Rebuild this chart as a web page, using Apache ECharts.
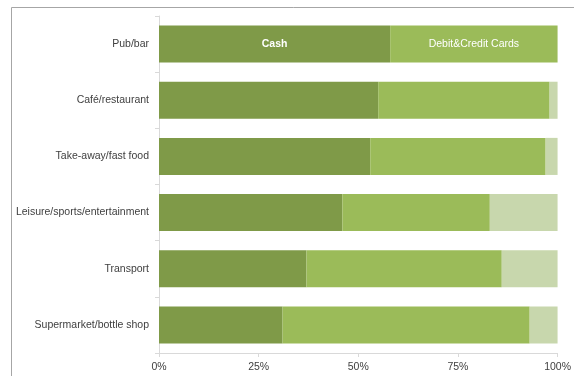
<!DOCTYPE html>
<html>
<head>
<meta charset="utf-8">
<script src="https://cdn.jsdelivr.net/npm/echarts@6/dist/echarts.min.js"></script>
<style>
html, body {margin: 0; padding: 0; background: #fff;}
#chart {width: 574px; height: 376px;}
</style>
</head>
<body>
<div id="chart"></div>
<script>
// payment method share by venue type (percent)
var categories = ['Pub/bar', 'Café/restaurant', 'Take-away/fast food', 'Leisure/sports/entertainment', 'Transport', 'Supermarket/bottle shop'];
var cash = [58, 55, 53, 46, 37, 31];
var cards = [42, 43, 44, 37, 49, 62];
var other = [0, 2, 3, 17, 14, 7];
var xTicks = [0, 25, 50, 75, 100];

function createPaymentChart() {
    var myChart = echarts.init(document.getElementById('chart'));
    var font = "'Liberation Sans', sans-serif";

    // only the first bar carries the inside labels
    function firstLabel(text, bold) {
        return {show: true, position: 'inside', color: '#fff', fontSize: 10.5, fontFamily: font, fontWeight: bold ? 'bold' : 'normal',
            formatter: function (p) { return p.dataIndex === 0 ? text : ''; }};
    }

    var option = {
        animation: false,
        graphic: [{type: 'rect', shape: {x: 11.5, y: 7.5, width: 700, height: 500}, style: {fill: 'none', stroke: '#A6A6A6', lineWidth: 1}}],
        grid: {left: 159, right: 16, top: 16, bottom: 23},
        xAxis: {type: 'value', min: 0, max: 100, interval: 25,
            axisLine: {show: true, lineStyle: {color: '#D9D9D9'}}, axisTick: {show: true, length: 4, lineStyle: {color: '#D9D9D9'}},
            splitLine: {show: false},
            axisLabel: {color: '#404040', fontSize: 10.5, fontFamily: font, margin: 9,
                formatter: function (v) { return xTicks.indexOf(v) >= 0 ? v + '%' : ''; }}},
        yAxis: {type: 'category', inverse: true, data: categories,
            axisLine: {show: true, lineStyle: {color: '#D9D9D9'}}, axisTick: {show: true, length: 4, lineStyle: {color: '#D9D9D9'}},
            axisLabel: {color: '#404040', fontSize: 10.5, fontFamily: font, margin: 10}},
        series: [
            {name: 'Cash', type: 'bar', stack: 'all', data: cash, barWidth: '66%', itemStyle: {color: '#7F9A48'}, label: firstLabel('Cash', true)},
            {name: 'Debit&Credit Cards', type: 'bar', stack: 'all', data: cards, itemStyle: {color: '#9BBB59'}, label: firstLabel('Debit&Credit Cards', false)},
            {name: 'Other', type: 'bar', stack: 'all', data: other, itemStyle: {color: '#C8D7AD'}}
        ]
    };

    myChart.setOption(option);
}

createPaymentChart();
</script>
</body>
</html>
